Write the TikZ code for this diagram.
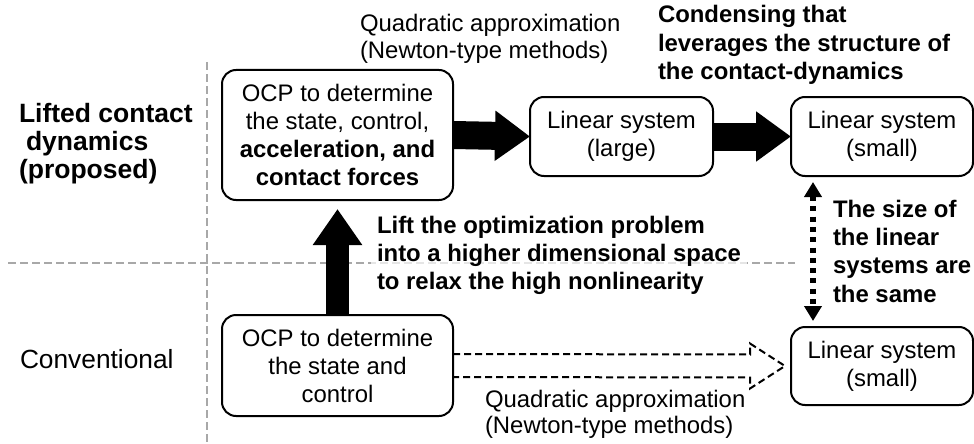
\documentclass[tikz,border=0pt]{standalone}
\usepackage{fontspec}
\setmainfont{Liberation Sans}
\usetikzlibrary{arrows.meta,calc}
\definecolor{guidegray}{RGB}{168,168,168}
\begin{document}
\begin{tikzpicture}[x=1pt,y=-1pt,
  every node/.style={inner sep=0pt, outer sep=0pt},
  txt/.style={font=\fontsize{23.9}{28}\selectfont},
  box/.style={txt, draw, line width=2pt, rounded corners=14pt, align=center},
  % multi-line labels are placed by the baseline of their last line
  lbl/.style={anchor=base west, align=left},
  bigtxt/.style={font=\fontsize{26.3}{28}\selectfont},
  guide/.style={draw=guidegray, line width=2pt, dash pattern=on 8pt off 4pt},
  bigarrow/.style={line width=#1, -{Triangle[width=48pt,length=35pt]}},
  hollow/.style={line width=2pt, dash pattern=on 7pt off 4pt, line join=miter},
  dotarrow/.style={line width=6.5pt, dash pattern=on 5pt off 5.3pt,
    {Triangle[width=17pt,length=15pt]}-{Triangle[width=17pt,length=15pt]},
    shorten >=6pt, shorten <=6pt}
]
\useasboundingbox (0,0) rectangle (974,444);

% row and column guides
\draw[guide] (207,62) -- (207,442);
\draw[guide] (8,263) -- (795,263);

% boxes
\node[box, minimum width=231, minimum height=130] (ocpA) at (337.5,135)
  {OCP to determine\\the state, control,\\\textbf{acceleration, and}\\\textbf{contact forces}};
\node[box, minimum width=183, minimum height=79] (linL) at (621.5,136.5)
  {Linear system\\(large)};
\node[box, minimum width=182, minimum height=79] (linS1) at (882,136.5)
  {Linear system\\(small)};
\node[box, minimum width=231, minimum height=101] (ocpB) at (337.5,365.5)
  {OCP to determine\\the state and\\control};
\node[box, minimum width=182, minimum height=78] (linS2) at (882,366)
  {Linear system\\(small)};

% row labels
\node[lbl, font=\bfseries\fontsize{26.5}{28}\selectfont] (lifted) at (19,178)
  {Lifted contact\\\hspace*{7pt}dynamics\\(proposed)};
\node[lbl, bigtxt] (conv) at (20,368) {Conventional};

% annotations
\node[lbl, font=\fontsize{23.9}{27}\selectfont] (qa1) at (360,59)
  {Quadratic approximation\\(Newton-type methods)};
\node[lbl, font=\bfseries\fontsize{23.9}{28.5}\selectfont] (cond) at (658,80)
  {Condensing that\\leverages the structure of\\the contact-dynamics};
\node[lbl, font=\bfseries\fontsize{23.9}{28}\selectfont, fill=white, fill opacity=0.7,
  text opacity=1, inner xsep=6pt, inner ysep=3pt] (lift) at (371,289)
  {Lift the optimization problem\\into a higher dimensional space\\to relax the high nonlinearity};
\node[lbl, font=\bfseries\fontsize{23.9}{28.3}\selectfont] (same) at (833,302)
  {The size of\\the linear\\systems are\\the same};
\node[lbl, font=\fontsize{23.9}{25.5}\selectfont] (qa2) at (485,433)
  {Quadratic approximation\\(Newton-type methods)};

% connectors
\draw[bigarrow=28pt] (ocpA.east) -- (linL.west);
\draw[bigarrow=28pt] (linL.east) -- (linS1.west);
\draw[line width=23pt, -{Triangle[width=47pt,length=36pt]}, shorten >=9pt]
  (ocpB.north) -- (ocpA.south);
\coordinate (tip) at ($(linS2.west)+(-6,0)$);
\draw[hollow] ($(ocpB.east)+(0,-11.5)$) -- ($(tip)+(-35,-11.5)$) -- ($(tip)+(-35,-22.5)$)
  -- (tip) -- ($(tip)+(-35,22.5)$) -- ($(tip)+(-35,11.5)$) -- ($(ocpB.east)+(0,11.5)$);
\draw[dotarrow] ($(linS1.south)+(-69,0)$) -- ($(linS2.north)+(-69,0)$);
\end{tikzpicture}
\end{document}
